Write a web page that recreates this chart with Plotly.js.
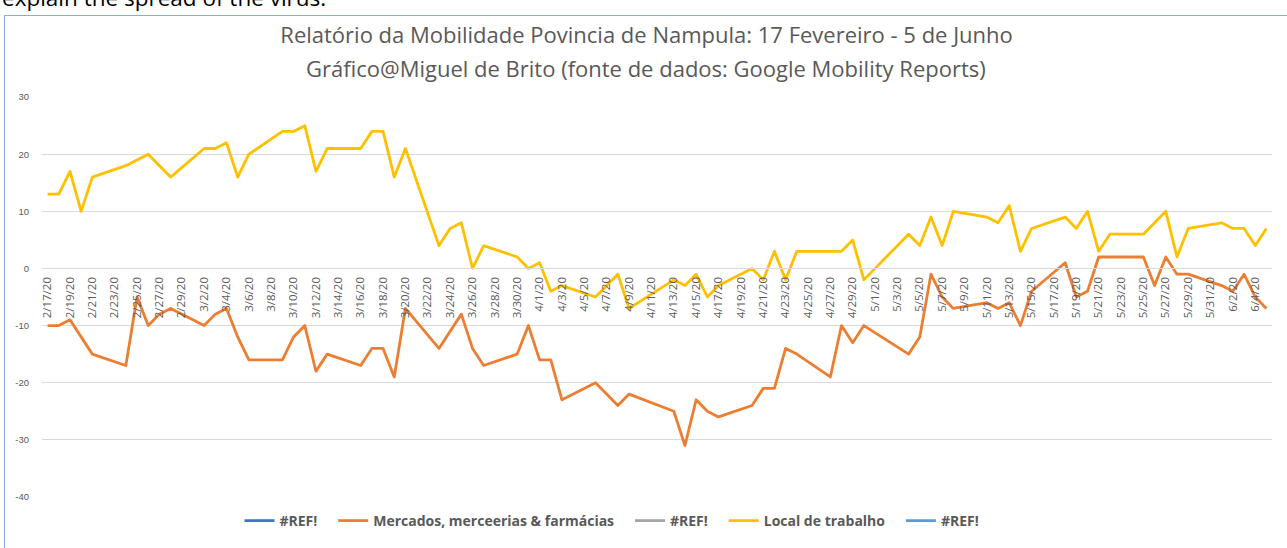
<!DOCTYPE html>
<html>
<head>
<meta charset="utf-8">
<script src="https://cdn.plot.ly/plotly-3.0.1.min.js"></script>
<style>
  html, body { margin: 0; padding: 0; background: #ffffff; overflow: hidden; width: 1287px; height: 548px; }
  #caption { position: absolute; left: 2px; top: -13px; font-family: "Open Sans", sans-serif; font-size: 22.5px; line-height: 1; color: #000; white-space: nowrap; }
  #frame { position: absolute; left: 4px; top: 15px; width: 1295px; height: 542px; border: 1px solid #8ea9db; background: #fff; }
  #chart { width: 1295px; height: 542px; }
  .js-line { stroke-linejoin: round; }
</style>
</head>
<body>
<div id="caption">explain the spread of the virus.</div>
<div id="frame"><div id="chart"></div></div>
<script>
const titleLine1 = "Relatório da Mobilidade Povincia de Nampula: 17 Fevereiro - 5 de Junho";
const titleLine2 = "Gráfico@Miguel de Brito (fonte de dados: Google Mobility Reports)";

const dates = [
  "2/17/20","2/18/20","2/19/20","2/20/20","2/21/20","2/22/20","2/23/20","2/24/20","2/25/20","2/26/20","2/27/20","2/28/20","2/29/20",
  "3/1/20","3/2/20","3/3/20","3/4/20","3/5/20","3/6/20","3/7/20","3/8/20","3/9/20","3/10/20","3/11/20","3/12/20","3/13/20","3/14/20","3/15/20","3/16/20",
  "3/17/20","3/18/20","3/19/20","3/20/20","3/21/20","3/22/20","3/23/20","3/24/20","3/25/20","3/26/20","3/27/20","3/28/20","3/29/20","3/30/20","3/31/20",
  "4/1/20","4/2/20","4/3/20","4/4/20","4/5/20","4/6/20","4/7/20","4/8/20","4/9/20","4/10/20","4/11/20","4/12/20","4/13/20","4/14/20","4/15/20",
  "4/16/20","4/17/20","4/18/20","4/19/20","4/20/20","4/21/20","4/22/20","4/23/20","4/24/20","4/25/20","4/26/20","4/27/20","4/28/20","4/29/20","4/30/20",
  "5/1/20","5/2/20","5/3/20","5/4/20","5/5/20","5/6/20","5/7/20","5/8/20","5/9/20","5/10/20","5/11/20","5/12/20","5/13/20","5/14/20","5/15/20",
  "5/16/20","5/17/20","5/18/20","5/19/20","5/20/20","5/21/20","5/22/20","5/23/20","5/24/20","5/25/20","5/26/20","5/27/20","5/28/20","5/29/20","5/30/20","5/31/20",
  "6/1/20","6/2/20","6/3/20","6/4/20","6/5/20"
];

// Local de trabalho (workplaces) – null = no data point (line connects across)
const localTrabalho = [
  13, 13, 17, 10, 16, null, null, 18, 19, 20, 18, 16, null,
  null, 21, 21, 22, 16, 20, null, null, 24, 24, 25, 17, 21, null, null, 21,
  24, 24, 16, 21, null, null, 4, 7, 8, 0, 4, null, null, 2, 0,
  1, -4, -3, null, null, -5, null, -1, -7, null, null, null, -2, -3, -1,
  -5, -3, null, null, 0, -2, 3, -2, 3, null, null, 3, 3, 5, -2,
  null, null, null, 6, 4, 9, 4, 10, null, null, 9, 8, 11, 3, 7,
  null, null, 9, 7, 10, 3, 6, null, null, 6, 8, 10, 2, 7, null, null,
  8, 7, 7, 4, 7
];

// Mercados, merceerias & farmácias (grocery & pharmacy)
const mercados = [
  -10, -10, -9, -12, -15, null, null, -17, -5, -10, -8, -7, null,
  null, -10, -8, -7, -12, -16, null, null, -16, -12, -10, -18, -15, null, null, -17,
  -14, -14, -19, -7, null, null, -14, -11, -8, -14, -17, null, null, -15, -10,
  -16, -16, -23, null, null, -20, null, -24, -22, null, null, null, -25, -31, -23,
  -25, -26, null, null, -24, -21, -21, -14, -15, null, null, -19, -10, -13, -10,
  null, null, null, -15, -12, -1, -5, -7, null, null, -6, -7, -6, -10, -4,
  null, null, 1, -5, -4, 2, 2, null, null, 2, -3, 2, -1, -1, null, null,
  -3, -4, -1, -5, -7
];

// Broken series (#REF!) – no data
const refSeries = [null];

const seriesNames = ["#REF!", "Mercados, merceerias & farmácias", "#REF!", "Local de trabalho", "#REF!"];
const seriesColors = ["#4472C4", "#ED7D31", "#A5A5A5", "#FFC000", "#5B9BD5"];

const yTicks = [30, 20, 10, 0, -10, -20, -30, -40];

// small spacer after legend entries to mimic the wider gaps of the original legend
const legendGap = "\u00a0\u00a0\u00a0";

function lineTrace(i, x, y) {
  return {
    type: "scatter", mode: "lines",
    name: seriesNames[i] + (i < seriesNames.length - 1 ? legendGap : ""),
    x: x, y: y, connectgaps: true, hoverinfo: "skip",
    line: { color: seriesColors[i], width: 2.8 }
  };
}

const traces = [
  lineTrace(0, refSeries, refSeries),
  lineTrace(1, dates, mercados),
  lineTrace(2, refSeries, refSeries),
  lineTrace(3, dates, localTrabalho),
  lineTrace(4, refSeries, refSeries)
];

const layout = {
  width: 1295, height: 542,
  margin: { l: 37, r: 27.5, t: 81, b: 61, pad: 0 },
  paper_bgcolor: "#ffffff", plot_bgcolor: "#ffffff",
  font: { family: "Open Sans, sans-serif", color: "#595959" },
  showlegend: true,
  title: {
    text: titleLine1,
    font: { family: "Open Sans, sans-serif", size: 22, color: "#595959" },
    x: 0.4954, xref: "container", xanchor: "center",
    y: 0.965, yref: "container", yanchor: "middle"
  },
  annotations: [{
    text: titleLine2, showarrow: false,
    xref: "paper", yref: "paper", x: 0.4914, y: 1.0717,
    xanchor: "center", yanchor: "middle",
    font: { family: "Open Sans, sans-serif", size: 22, color: "#595959" }
  }],
  xaxis: {
    type: "category",
    categoryorder: "array", categoryarray: dates,
    range: [-0.5, dates.length - 0.5],
    anchor: "free", position: 40 / 70,
    tickmode: "linear", tick0: 0, dtick: 2,
    tickangle: -90,
    ticks: "", ticklabelstandoff: 3,
    tickfont: { family: "Open Sans, sans-serif", size: 11.5, color: "#595959" },
    showgrid: false, zeroline: false,
    showline: true, linecolor: "#d9d9d9", linewidth: 1,
    fixedrange: true
  },
  yaxis: {
    range: [-40.02, 30.02],
    tickmode: "array", tickvals: yTicks, ticktext: yTicks.map(String),
    ticks: "", ticklabelstandoff: 12,
    tickfont: { family: "Liberation Sans Narrow, Arial Narrow, sans-serif", size: 9.5, color: "#595959" },
    showgrid: true, gridcolor: "#d9d9d9", gridwidth: 1,
    zeroline: false, showline: false,
    fixedrange: true
  },
  legend: {
    orientation: "h",
    x: 0.4634, xanchor: "center",
    y: -0.06, yanchor: "middle",
    font: { family: "Open Sans, sans-serif", size: 14, color: "#595959", weight: "bold" },
    bgcolor: "rgba(0,0,0,0)"
  }
};

Plotly.newPlot("chart", traces, layout, { displayModeBar: false, staticPlot: true });
</script>
</body>
</html>
